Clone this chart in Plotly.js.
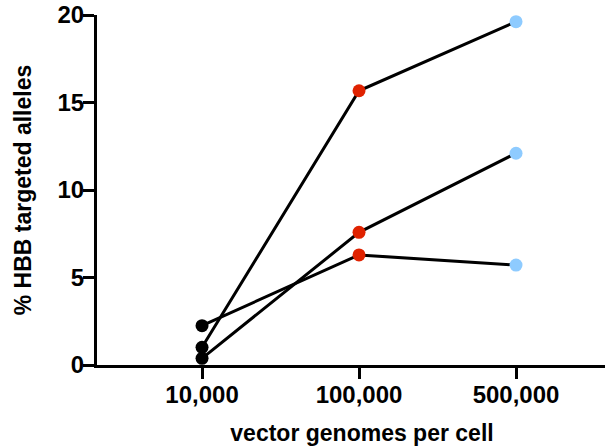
<!DOCTYPE html>
<html>
<head>
<meta charset="utf-8">
<script src="https://cdn.plot.ly/plotly-3.0.1.min.js"></script>
<style>
html, body { margin: 0; padding: 0; overflow: hidden; width: 605px; height: 446px; background: #fff; }
#chart { width: 627px; height: 446px; }
</style>
</head>
<body>
<div id="chart"></div>
<script>
const categories = ['10,000', '100,000', '500,000'];
const seriesA = [1.01, 15.67, 19.62];
const seriesB = [0.38, 7.58, 12.1];
const seriesC = [2.25, 6.29, 5.71];
const pointColors = ['#000000', '#e02200', '#8ecbff'];

const FONT = 'Liberation Sans, Arial, sans-serif';

function trace(vals) {
  return {
    x: [0, 1, 2],
    y: vals,
    type: 'scatter',
    mode: 'lines+markers',
    line: { color: '#000000', width: 3 },
    marker: { color: pointColors, size: 13, line: { width: 0 } },
    cliponaxis: false,
    showlegend: false,
    hoverinfo: 'skip'
  };
}

const data = [trace(seriesA), trace(seriesB), trace(seriesC)];

const layout = {
  width: 627,
  height: 446,
  margin: { l: 97, r: 0, t: 15, b: 81 },
  paper_bgcolor: '#ffffff',
  plot_bgcolor: '#ffffff',
  font: { family: FONT, color: '#000000' },
  xaxis: {
    range: [-0.669, 2.707],
    tickmode: 'array',
    tickvals: [0, 1, 2],
    ticktext: categories,
    showgrid: false,
    zeroline: false,
    showline: true,
    linecolor: '#000000',
    linewidth: 3,
    ticks: 'outside',
    ticklen: 11,
    tickwidth: 3,
    tickcolor: '#000000',
    ticklabelstandoff: -5,
    tickfont: { family: FONT, size: 24, weight: 'bold', color: '#000000' },
    title: { text: 'vector genomes per cell', font: { family: FONT, size: 23, weight: 'bold', color: '#000000' }, standoff: 20 },
    fixedrange: true
  },
  yaxis: {
    range: [0, 20],
    tickmode: 'linear',
    tick0: 0,
    dtick: 5,
    showgrid: false,
    zeroline: false,
    showline: true,
    linecolor: '#000000',
    linewidth: 3,
    ticks: 'outside',
    ticklen: 11,
    tickwidth: 3,
    tickcolor: '#000000',
    ticklabelstandoff: -6,
    tickfont: { family: FONT, size: 24, weight: 'bold', color: '#000000' },
    title: { text: '% HBB targeted alleles', font: { family: FONT, size: 23, weight: 'bold', color: '#000000' }, standoff: 20 },
    fixedrange: true
  }
};

Plotly.newPlot('chart', data, layout, { displayModeBar: false, staticPlot: true });
</script>
</body>
</html>
